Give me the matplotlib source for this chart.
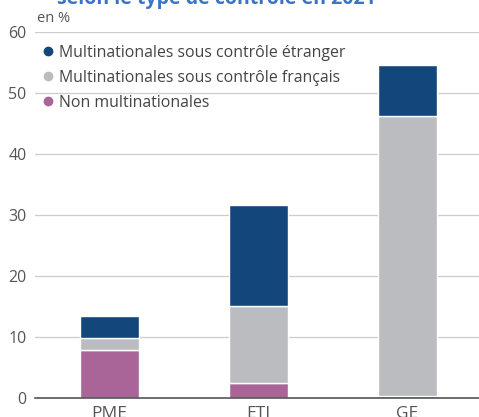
import matplotlib.pyplot as plt
from matplotlib.lines import Line2D

plt.rcParams['font.family'] = ['Open Sans', 'DejaVu Sans']

# Data (en %)
categories = ['PME', 'ETI', 'GE']
non_multi = [7.8, 2.5, 0.3]
multi_fr = [2.0, 12.6, 45.9]
multi_etr = [3.7, 16.5, 8.4]

labels = ['Multinationales sous contrôle étranger',
          'Multinationales sous contrôle français',
          'Non multinationales']
colors = ['#13477c', '#bbbcc0', '#a96597']

fig = plt.figure(figsize=(4.79, 4.17), dpi=100)
ax = fig.add_axes([35 / 479, 19 / 417, 444 / 479, 366 / 417])

x = range(len(categories))
w = 0.4
bottom2 = [a + b for a, b in zip(non_multi, multi_fr)]
ax.bar(x, non_multi, w, color=colors[2], edgecolor='white', linewidth=1, zorder=3)
ax.bar(x, multi_fr, w, bottom=non_multi, color=colors[1], edgecolor='white', linewidth=1, zorder=3)
ax.bar(x, multi_etr, w, bottom=bottom2, color=colors[0], edgecolor='white', linewidth=1, zorder=3)

ax.set_xlim(-0.5, 2.48)
ax.set_ylim(0, 60)
ax.set_yticks(range(0, 61, 10))
ax.set_xticks(list(x))
ax.set_xticklabels(categories, fontsize=12.5)
ax.grid(axis='y', color='#cccccc', linewidth=0.9, zorder=0)
for s in ['top', 'right', 'left']:
    ax.spines[s].set_visible(False)
ax.spines['bottom'].set_color('#555555')
ax.spines['bottom'].set_linewidth(1.2)
ax.spines['bottom'].set_zorder(4)
ax.tick_params(axis='both', length=0, colors='#555555')
ax.tick_params(axis='y', pad=6, labelsize=11.5)
ax.tick_params(axis='x', pad=6)

handles = [Line2D([], [], marker='o', linestyle='', markersize=6,
                  color=c) for c in colors]
leg = ax.legend(handles, labels, loc='upper left', bbox_to_anchor=(-0.018, 0.995),
                frameon=False, fontsize=11.4, handletextpad=0.05,
                labelspacing=0.57, borderaxespad=0.3, handlelength=1.3)
for t in leg.get_texts():
    t.set_color('#444444')

fig.text(37 / 479, 1 - 18 / 417, 'en %', fontsize=10.5, color='#555555', va='center')
fig.text(57 / 479, 1 - 4 / 417, 'selon le type de contrôle en 2021', fontsize=14,
         fontweight='bold', color='#3a74c6', va='baseline')

fig.savefig('out.png', dpi=100)
